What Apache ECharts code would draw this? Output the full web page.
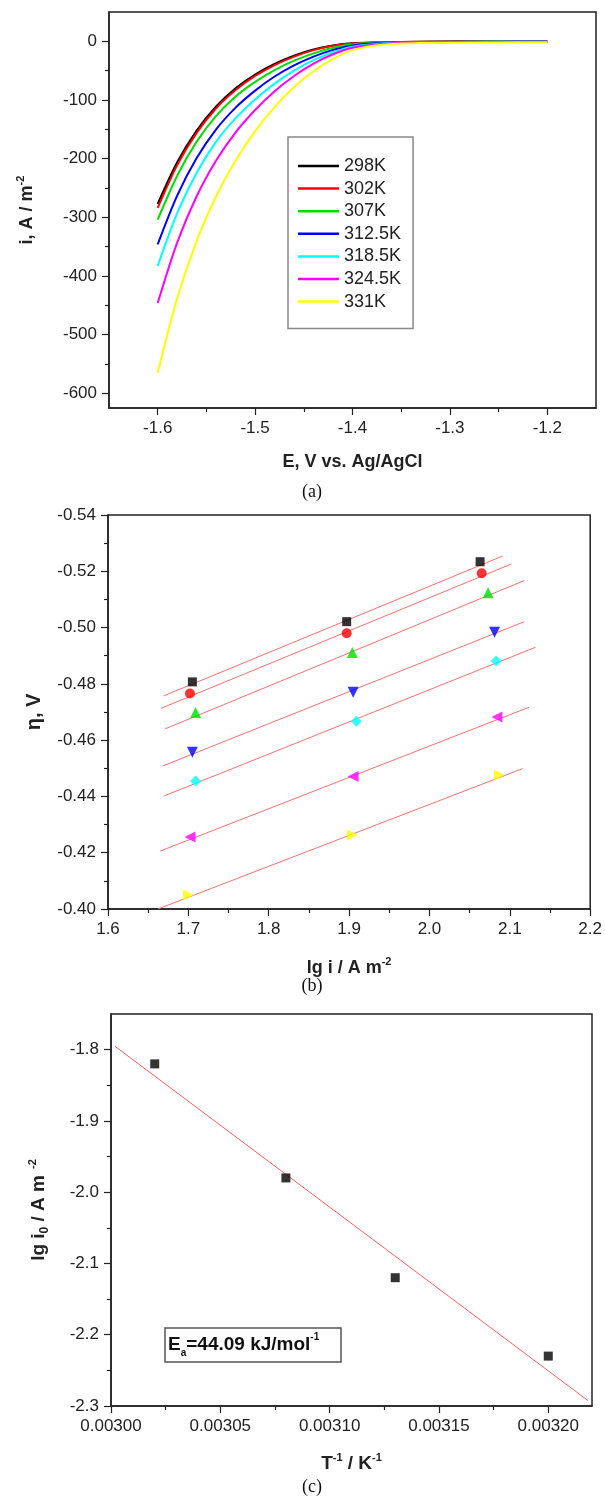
<!DOCTYPE html>
<html>
<head>
<meta charset="utf-8">
<script src="https://cdn.jsdelivr.net/npm/echarts@6/dist/echarts.min.js"></script>
<style>
  html, body { margin: 0; padding: 0; background: #ffffff; }
  #chart { width: 605px; height: 1497px; }
</style>
</head>
<body>
<div id="chart"></div>
<script>
// ---------- Panel (a): polarization curves ----------
const tempLabels = ['298K', '302K', '307K', '312.5K', '318.5K', '324.5K', '331K'];
const tempColors = ['#000000', '#ff0000', '#00dd00', '#0000ff', '#00ffff', '#ff00ff', '#ffff00'];
const potentialE = [-1.60, -1.58, -1.56, -1.54, -1.52, -1.50, -1.48, -1.46, -1.44, -1.42, -1.40, -1.37, -1.33, -1.25, -1.20];
const current298 = [-277, -206, -152, -111, -80, -56.5, -38.5, -24.5, -14, -7, -3.4, -1.6, -0.8, -0.3, -0.2];
const current302 = [-284, -211, -156, -114, -83, -59, -40.5, -26, -15, -7.5, -3.6, -1.8, -0.8, -0.3, -0.2];
const current307 = [-304, -229, -171, -127, -94, -69, -49, -33, -20.5, -11, -5, -2.1, -1, -0.4, -0.3];
const current3125 = [-346, -263, -199, -150, -113, -84, -60, -41, -26, -14.5, -7, -2.8, -1.2, -0.5, -0.4];
const current3185 = [-383, -293, -224, -171, -131, -99, -72, -50, -32, -18.5, -9, -3.5, -1.5, -0.7, -0.5];
const current3245 = [-446, -343, -264, -203, -155, -117, -85, -59, -38, -22, -11, -4.5, -2, -1, -0.8];
const current331 = [-565, -438, -340, -264, -203, -153, -112, -78, -51, -30, -15, -6, -3, -1.8, -1.6];
const currentSets = [current298, current302, current307, current3125, current3185, current3245, current331];
const aXTicks = [-1.6, -1.5, -1.4, -1.3, -1.2];
const aXMinor = [-1.55, -1.45, -1.35, -1.25];
const aYTicks = [-600, -500, -400, -300, -200, -100, 0];
const aYMinor = [-550, -450, -350, -250, -150, -50];

// ---------- Panel (b): Tafel points and fitted lines ----------
const tafel298 = [[1.705, -0.4807], [1.897, -0.5021], [2.063, -0.5234]];
const tafel302 = [[1.702, -0.4766], [1.897, -0.4980], [2.065, -0.5193]];
const tafel307 = [[1.709, -0.4698], [1.904, -0.4911], [2.073, -0.5124]];
const tafel3125 = [[1.705, -0.4557], [1.905, -0.4770], [2.081, -0.4983]];
const tafel3185 = [[1.709, -0.4455], [1.909, -0.4667], [2.083, -0.4881]];
const tafel3245 = [[1.702, -0.4256], [1.905, -0.4471], [2.084, -0.4682]];
const tafel331 = [[1.700, -0.4050], [1.904, -0.4263], [2.087, -0.4476]];
const tafelSets = [tafel298, tafel302, tafel307, tafel3125, tafel3185, tafel3245, tafel331];
const fit298 = [[1.669, -0.4757], [2.091, -0.5254]];
const fit302 = [[1.666, -0.4713], [2.102, -0.5226]];
const fit307 = [[1.671, -0.4640], [2.118, -0.5167]];
const fit3125 = [[1.668, -0.4508], [2.118, -0.5021]];
const fit3185 = [[1.670, -0.4402], [2.132, -0.4930]];
const fit3245 = [[1.665, -0.4206], [2.124, -0.4717]];
const fit331 = [[1.662, -0.4000], [2.116, -0.4499]];
const fitSets = [fit298, fit302, fit307, fit3125, fit3185, fit3245, fit331];
const tafelSymbols = ['rect', 'circle', 'triangle', 'triangle', 'diamond', 'triangle', 'triangle'];
const tafelRotate = [0, 0, 0, 180, 0, 90, -90];
const tafelSizes = [9, 10, 11, 11, 11, 11, 11];

// ---------- Panel (c): Arrhenius plot ----------
const invT = [0.00302, 0.00308, 0.00313, 0.00320];
const lgI0 = [-1.82, -1.98, -2.12, -2.23];
const arrheniusFit = [[0.0030018, -1.7953], [0.0032182, -2.2925]];
const cXTicks = [0.00300, 0.00305, 0.00310, 0.00315, 0.00320];
const cXMinor = [0.003025, 0.003075, 0.003125, 0.003175];
const cYTicks = [-2.3, -2.2, -2.1, -2.0, -1.9, -1.8];
const cYMinor = [-2.25, -2.15, -2.05, -1.95, -1.85];

const FONT = 'Liberation Sans, Arial, Helvetica, sans-serif';
const INK = '#222';

function baseAxis(extra) {
  return Object.assign({
    type: 'value',
    axisLine: { show: true, onZero: false, lineStyle: { color: INK, width: 1.5 } },
    axisTick: { show: true, inside: false, length: 7, lineStyle: { color: INK, width: 1.2 } },
    axisLabel: { color: INK, fontSize: 17, fontFamily: FONT, margin: 12 },
    splitLine: { show: false },
    nameTextStyle: { color: INK, fontSize: 18, fontWeight: 'bold', fontFamily: FONT }
  }, extra);
}
function customTick(ticks) {
  return { show: true, inside: false, length: 7, customValues: ticks, lineStyle: { color: INK, width: 1.2 } };
}
function customLabel(ticks, fmt) {
  return { color: INK, fontSize: 17, fontFamily: FONT, margin: 12, customValues: ticks, formatter: fmt };
}
function minorAxis(extra, ticks) {
  return Object.assign({
    type: 'value',
    axisLine: { show: false, onZero: false },
    axisTick: { show: true, inside: false, length: 4, customValues: ticks, lineStyle: { color: INK, width: 1.2 } },
    axisLabel: { show: false },
    splitLine: { show: false }
  }, extra);
}
const minorTickStyle = { show: true, splitNumber: 2, length: 4, lineStyle: { color: INK, width: 1.2 } };

const titleRich = (size) => ({
  t: { fontSize: size, fontWeight: 'bold', fontFamily: FONT, color: INK, lineHeight: 24, verticalAlign: 'middle' },
  s: { fontSize: 11, fontWeight: 'bold', fontFamily: FONT, color: INK, verticalAlign: 'top' },
  b: { fontSize: 12, fontWeight: 'bold', fontFamily: FONT, color: INK, verticalAlign: 'bottom' }
});

const series = [];
currentSets.forEach((vals, k) => {
  series.push({
    name: tempLabels[k], type: 'line', xAxisIndex: 0, yAxisIndex: 0,
    data: potentialE.map((e, j) => [e, vals[j]]),
    smooth: 0.3, showSymbol: false, symbol: 'none',
    color: tempColors[k], lineStyle: { width: 2, color: tempColors[k] }, z: 3 + k
  });
});
fitSets.forEach((pts, k) => {
  series.push({
    name: 'fit ' + tempLabels[k], type: 'line', xAxisIndex: 2, yAxisIndex: 2,
    data: pts, symbol: 'none', silent: true,
    lineStyle: { width: 1, color: '#ff7070' }, z: 2
  });
});
tafelSets.forEach((pts, k) => {
  series.push({
    name: 'Tafel ' + tempLabels[k], type: 'scatter', xAxisIndex: 2, yAxisIndex: 2,
    data: pts, symbol: tafelSymbols[k], symbolRotate: tafelRotate[k],
    symbolSize: tafelSizes[k],
    itemStyle: { color: tempColors[k] }, z: 5
  });
});
series.push({
  name: 'Arrhenius fit', type: 'line', xAxisIndex: 3, yAxisIndex: 3,
  data: arrheniusFit, symbol: 'none', silent: true,
  lineStyle: { width: 1, color: '#ff6060' }, z: 2
});
series.push({
  name: 'lg i0', type: 'scatter', xAxisIndex: 3, yAxisIndex: 3,
  data: invT.map((x, j) => [x, lgI0[j]]), symbol: 'rect', symbolSize: 9,
  itemStyle: { color: '#000' }, z: 5
});

const option = {
  animation: false,
  backgroundColor: '#ffffff',
  grid: [
    { left: 109, top: 12, width: 487, height: 396, show: true, borderColor: INK, borderWidth: 1.5, backgroundColor: 'transparent' },
    { left: 108, top: 515, width: 483, height: 394, show: true, borderColor: INK, borderWidth: 1.5, backgroundColor: 'transparent' },
    { left: 111, top: 1014, width: 481, height: 392, show: true, borderColor: INK, borderWidth: 1.5, backgroundColor: 'transparent' }
  ],
  xAxis: [
    baseAxis({
      gridIndex: 0, position: 'bottom', min: -1.65, max: -1.15,
      axisTick: customTick(aXTicks),
      axisLabel: customLabel(aXTicks, v => Number(v).toFixed(1)),
      name: 'E, V vs. Ag/AgCl', nameLocation: 'middle', nameGap: 45
    }),
    minorAxis({ gridIndex: 0, position: 'bottom', min: -1.65, max: -1.15 }, aXMinor),
    baseAxis({
      gridIndex: 1, position: 'bottom', min: 1.6, max: 2.2, interval: 0.1,
      minorTick: minorTickStyle,
      axisLabel: { color: INK, fontSize: 17, fontFamily: FONT, margin: 12, formatter: v => v.toFixed(1) },
      name: '{t|lg i / A m}{s|-2}', nameLocation: 'middle', nameGap: 47,
      nameTextStyle: { rich: titleRich(18) }
    }),
    baseAxis({
      gridIndex: 2, position: 'bottom', min: 0.003, max: 0.00322,
      axisTick: customTick(cXTicks),
      axisLabel: customLabel(cXTicks, v => Number(v).toFixed(5)),
      name: '{t|T}{s|-1}{t| / K}{s|-1}', nameLocation: 'middle', nameGap: 46,
      nameTextStyle: { rich: titleRich(19) }
    }),
    minorAxis({ gridIndex: 2, position: 'bottom', min: 0.003, max: 0.00322 }, cXMinor)
  ],
  yAxis: [
    baseAxis({
      gridIndex: 0, position: 'left', min: -625, max: 50,
      axisTick: customTick(aYTicks),
      axisLabel: customLabel(aYTicks, v => String(Math.round(v))),
      name: '{t|i, A / m}{s|-2}', nameLocation: 'middle', nameGap: 70,
      nameTextStyle: { rich: titleRich(18) }
    }),
    minorAxis({ gridIndex: 0, position: 'left', min: -625, max: 50 }, aYMinor),
    baseAxis({
      gridIndex: 1, position: 'left', min: -0.54, max: -0.40, interval: 0.02, inverse: true,
      minorTick: minorTickStyle,
      axisLabel: { color: INK, fontSize: 17, fontFamily: FONT, margin: 12, formatter: v => v.toFixed(2) },
      name: 'η, V', nameLocation: 'middle', nameGap: 64,
      nameTextStyle: { color: INK, fontSize: 20, fontWeight: 'bold', fontFamily: FONT }
    }),
    baseAxis({
      gridIndex: 2, position: 'left', min: -2.3, max: -1.75,
      axisTick: customTick(cYTicks),
      axisLabel: customLabel(cYTicks, v => Number(v).toFixed(1)),
      name: '{t|lg i}{b|0}{t| / A m}{s|  -2}', nameLocation: 'middle', nameGap: 60,
      nameTextStyle: { rich: titleRich(19) }
    }),
    minorAxis({ gridIndex: 2, position: 'left', min: -2.3, max: -1.75 }, cYMinor)
  ],
  legend: {
    data: tempLabels,
    orient: 'vertical',
    left: 288, top: 137,
    padding: [20, 12, 18, 10],
    itemGap: 4.6,
    itemWidth: 41, itemHeight: 2.5,
    icon: 'rect',
    selectedMode: false,
    borderColor: '#888', borderWidth: 1.5,
    backgroundColor: '#ffffff',
    textStyle: { color: INK, fontSize: 18, fontFamily: FONT, lineHeight: 18 }
  },
  graphic: [
    { type: 'text', x: 312, y: 492, style: { text: '(a)', font: '18px "Liberation Serif", "Times New Roman", serif', fill: '#111', align: 'center', verticalAlign: 'middle' } },
    { type: 'text', x: 312, y: 986, style: { text: '(b)', font: '18px "Liberation Serif", "Times New Roman", serif', fill: '#111', align: 'center', verticalAlign: 'middle' } },
    { type: 'text', x: 312, y: 1487, style: { text: '(c)', font: '18px "Liberation Serif", "Times New Roman", serif', fill: '#111', align: 'center', verticalAlign: 'middle' } },
    { type: 'rect', shape: { x: 165, y: 1328, width: 176, height: 34 }, style: { fill: '#ffffff', stroke: '#555', lineWidth: 1.5 }, z: 10 },
    {
      type: 'text', x: 168, y: 1345, z: 11,
      style: {
        text: '{m|E}{sb|a}{m|=44.09 kJ/mol}{sp|-1}',
        verticalAlign: 'middle',
        rich: {
          m: { fontSize: 19, fontWeight: 'bold', fontFamily: FONT, fill: '#111', lineHeight: 26, verticalAlign: 'middle' },
          sb: { fontSize: 10, fontWeight: 'bold', fontFamily: FONT, fill: '#111', verticalAlign: 'bottom' },
          sp: { fontSize: 10, fontWeight: 'bold', fontFamily: FONT, fill: '#111', verticalAlign: 'top' }
        }
      }
    }
  ],
  series: series
};

const chart = echarts.init(document.getElementById('chart'), null, { renderer: 'canvas' });
chart.setOption(option);
</script>
</body>
</html>
